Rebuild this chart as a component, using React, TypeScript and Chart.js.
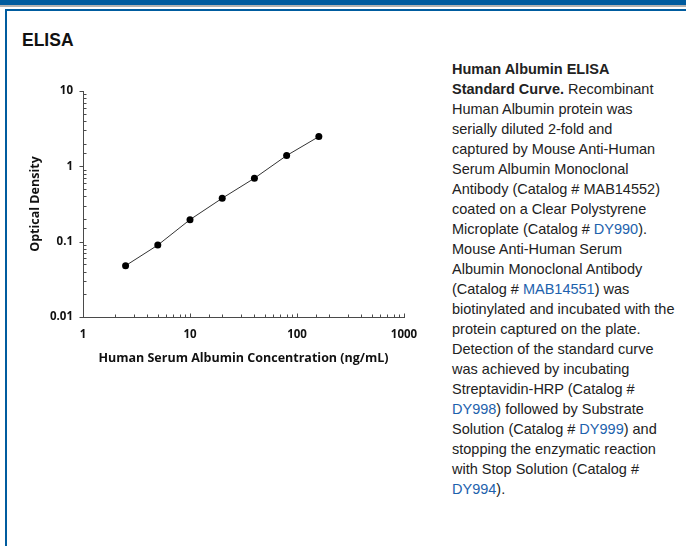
import React, { useEffect, useRef } from "react";
import { Chart, registerables } from "chart.js";

Chart.register(...registerables);

const concentrations = [2.5, 5, 10, 20, 40, 80, 160];
const opticalDensity = [0.048, 0.09, 0.196, 0.377, 0.695, 1.39, 2.48];
const xTickLabels = ["1", "10", "100", "1000"];
const yTickLabels = ["0.01", "0.1", "1", "10"];
const xTitle = "Human Serum Albumin Concentration (ng/mL)";
const yTitle = "Optical Density";

const BLUE = "#005c9f";
const LINK = "#1d62ad";
const AXIS = "#4a4a4a";
const CHART_FONT = "'Open Sans', 'DejaVu Sans', sans-serif";

const isDecade = (v: number) => Math.abs(Math.log10(v) - Math.round(Math.log10(v))) < 1e-6;

const tickPlugin = {
  id: "logTicks",
  afterDraw(chart: any) {
    const ctx = chart.ctx;
    const xs = chart.scales.x;
    const ys = chart.scales.y;
    ctx.save();
    ctx.strokeStyle = AXIS;
    ctx.lineWidth = 1;
    ctx.beginPath();
    const yAxisX = Math.round(xs.left) + 0.5;
    for (const t of ys.ticks) {
      const py = Math.round(ys.getPixelForValue(t.value)) + 0.5;
      if (isDecade(t.value)) {
        ctx.moveTo(yAxisX - 4, py);
        ctx.lineTo(yAxisX, py);
      } else {
        ctx.moveTo(yAxisX, py);
        ctx.lineTo(yAxisX + 3, py);
      }
    }
    const xAxisY = Math.round(ys.bottom) + 0.5;
    for (const t of xs.ticks) {
      const px = Math.round(xs.getPixelForValue(t.value)) + 0.5;
      const len = isDecade(t.value) ? 4 : 3;
      ctx.moveTo(px, xAxisY);
      ctx.lineTo(px, xAxisY - len);
    }
    ctx.stroke();
    ctx.restore();
  },
};

function ChartBox() {
  const ref = useRef<HTMLCanvasElement | null>(null);
  useEffect(() => {
    if (!ref.current) return;
    const chart = new Chart(ref.current, {
      type: "line",
      data: {
        datasets: [
          {
            data: concentrations.map((c, i) => ({ x: c, y: opticalDensity[i] })),
            borderColor: "#333333",
            borderWidth: 1,
            backgroundColor: "#000000",
            pointBackgroundColor: "#000000",
            pointBorderColor: "#000000",
            pointRadius: 3.5,
            pointBorderWidth: 0,
            tension: 0,
          },
        ],
      },
      plugins: [tickPlugin],
      options: {
        responsive: false,
        animation: false,
        devicePixelRatio: 1,
        layout: { padding: { top: 21, right: 36, bottom: 0, left: 0 } },
        plugins: { legend: { display: false }, tooltip: { enabled: false } },
        scales: {
          x: {
            type: "logarithmic",
            min: 1,
            max: 1000,
            afterFit: (s: any) => {
              s.height = 53;
            },
            grid: { display: false, drawTicks: false },
            border: { display: true, color: AXIS, width: 1 },
            ticks: {
              autoSkip: false,
              maxRotation: 0,
              padding: 11,
              color: "#111111",
              font: { family: CHART_FONT, size: 11.5, weight: 700 },
              callback: (v: any) => {
                const n = Number(v);
                return isDecade(n) ? xTickLabels[Math.round(Math.log10(n))] : "";
              },
            },
            title: {
              display: true,
              text: xTitle,
              color: "#111111",
              font: { family: CHART_FONT, size: 12.5, weight: 700 },
              padding: { top: 0, bottom: 4 },
            },
          },
          y: {
            type: "logarithmic",
            min: 0.01,
            max: 10,
            afterFit: (s: any) => {
              s.width = 63;
            },
            grid: { display: false, drawTicks: false },
            border: { display: true, color: AXIS, width: 1 },
            ticks: {
              autoSkip: false,
              padding: 10,
              color: "#111111",
              font: { family: CHART_FONT, size: 11.5, weight: 700 },
              callback: (v: any) => {
                const n = Number(v);
                return isDecade(n) ? yTickLabels[Math.round(Math.log10(n)) + 2] : "";
              },
            },
            title: {
              display: true,
              text: yTitle,
              color: "#111111",
              font: { family: CHART_FONT, size: 12.5, weight: 700 },
              padding: { top: 8, bottom: 0 },
            },
          },
        },
      },
    } as any);
    return () => chart.destroy();
  }, []);
  return <canvas ref={ref} width={420} height={300} style={{ display: "block" }} />;
}

const L = ({ children }: { children: React.ReactNode }) => (
  <span style={{ color: LINK }}>{children}</span>
);

export default function App() {
  useEffect(() => {
    document.body.style.margin = "0";
  }, []);
  return (
    <div
      style={{
        position: "relative",
        width: 686,
        height: 546,
        overflow: "hidden",
        background: "#ffffff",
        fontFamily: "'Liberation Sans', Arial, sans-serif",
      }}
    >
      <div style={{ position: "absolute", left: 0, top: 0, width: 686, height: 5, background: BLUE }} />
      <div style={{ position: "absolute", left: 0, top: 5, width: 686, height: 2, background: "#b3b3b3" }} />
      <div
        style={{
          position: "absolute",
          left: 5,
          top: 9,
          width: 720,
          height: 600,
          borderLeft: `2px solid ${BLUE}`,
          borderTop: `2px solid ${BLUE}`,
        }}
      />
      <div
        style={{
          position: "absolute",
          left: 22,
          top: 30,
          fontSize: 17.5,
          fontWeight: 700,
          color: "#111",
          lineHeight: "20px",
        }}
      >
        ELISA
      </div>
      <div style={{ position: "absolute", left: 20, top: 70 }}>
        <ChartBox />
      </div>
      <div
        style={{
          position: "absolute",
          left: 452,
          top: 59,
          fontSize: 14.5,
          lineHeight: "20px",
          color: "#222",
          whiteSpace: "nowrap",
        }}
      >
        <b>Human Albumin ELISA</b>
        <br />
        <b>Standard Curve.</b> Recombinant
        <br />
        Human Albumin protein was
        <br />
        serially diluted 2-fold and
        <br />
        captured by Mouse Anti-Human
        <br />
        Serum Albumin Monoclonal
        <br />
        Antibody (Catalog # MAB14552)
        <br />
        coated on a Clear Polystyrene
        <br />
        Microplate (Catalog # <L>DY990</L>).
        <br />
        Mouse Anti-Human Serum
        <br />
        Albumin Monoclonal Antibody
        <br />
        (Catalog # <L>MAB14551</L>) was
        <br />
        biotinylated and incubated with the
        <br />
        protein captured on the plate.
        <br />
        Detection of the standard curve
        <br />
        was achieved by incubating
        <br />
        Streptavidin-HRP (Catalog #
        <br />
        <L>DY998</L>) followed by Substrate
        <br />
        Solution (Catalog # <L>DY999</L>) and
        <br />
        stopping the enzymatic reaction
        <br />
        with Stop Solution (Catalog #
        <br />
        <L>DY994</L>).
      </div>
    </div>
  );
}
